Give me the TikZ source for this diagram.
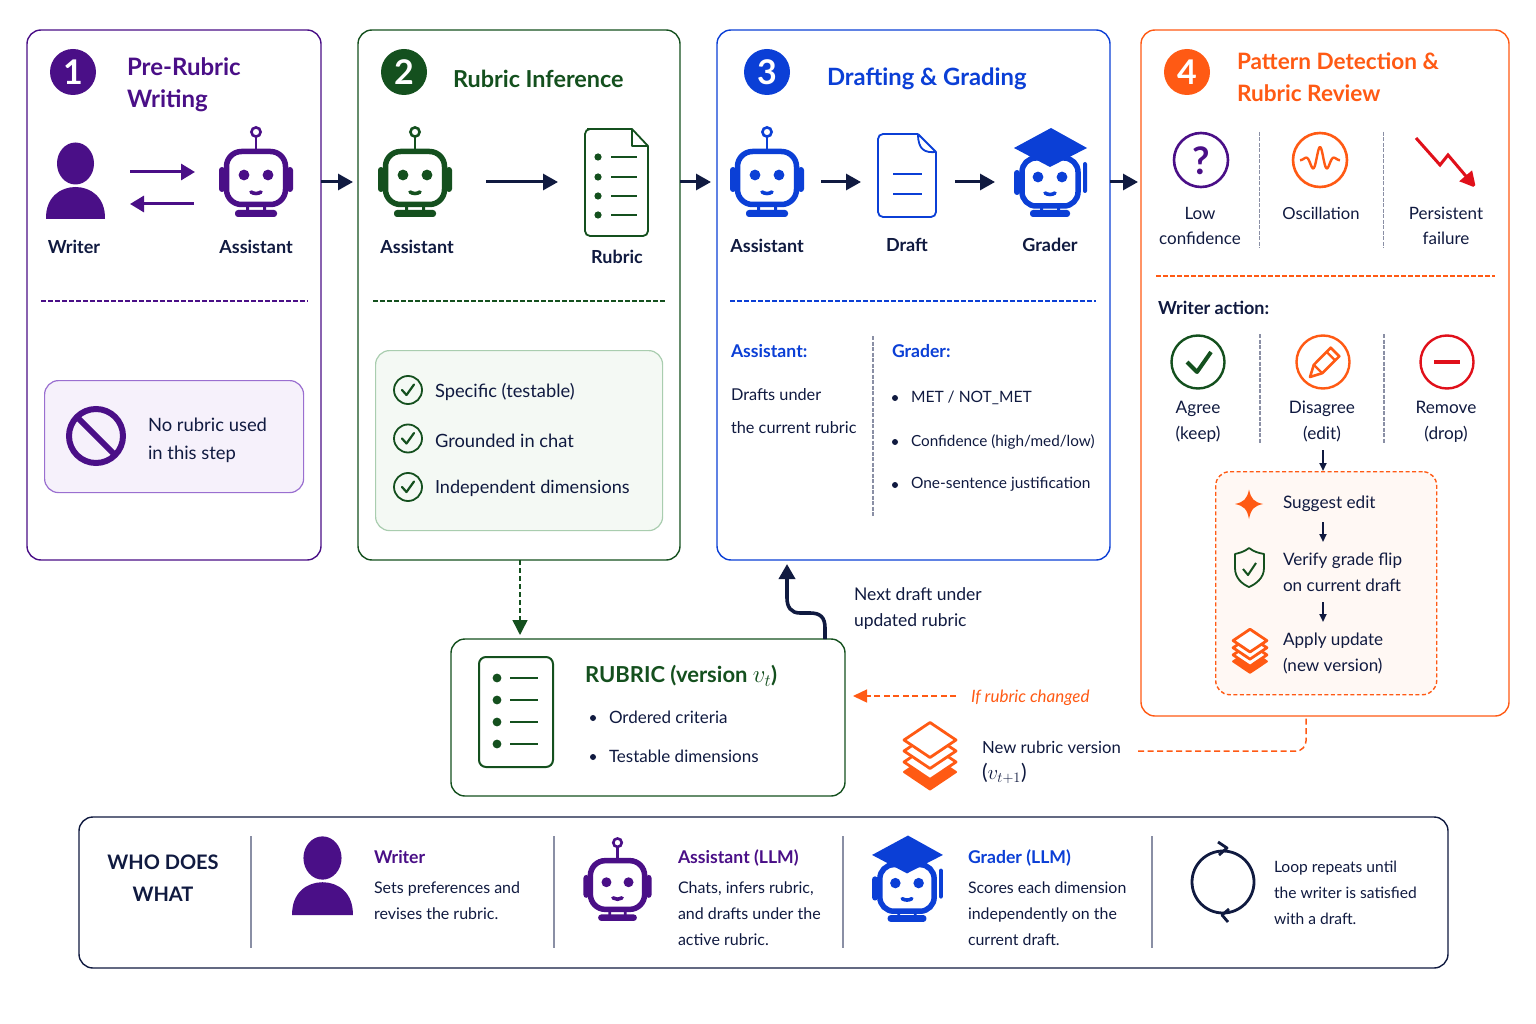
\documentclass[tikz,border=0pt]{standalone}
\usepackage{fontspec}
\setmainfont{Lato}
\usetikzlibrary{arrows.meta,calc}
\definecolor{cpur}{HTML}{4A0F87}
\definecolor{cgrn}{HTML}{14501E}
\definecolor{cblu}{HTML}{0B3FD6}
\definecolor{corg}{HTML}{FF5A14}
\definecolor{cred}{HTML}{E0101A}
\definecolor{cnav}{HTML}{101A40}
\definecolor{cgry}{HTML}{8A8FA5}
\tikzset{
  x=1pt,y=-1pt,
  fs/.style 2 args={font=\fontsize{#1}{#2}\selectfont},
  txt/.style={anchor=west,align=left,text=cnav,inner sep=0pt,outer sep=0pt,yshift=-0.5pt},
  ctr/.style={anchor=center,align=center,text=cnav,inner sep=0pt,outer sep=0pt,yshift=-0.5pt},
  lbl/.style={ctr,font=\fontsize{18}{25}\selectfont\bfseries},
  body/.style={txt,fs={17.5}{26}},
  head/.style={txt,font=\fontsize{24}{32}\selectfont\bfseries},
  subhd/.style={txt,font=\fontsize{17.6}{24}\selectfont\bfseries},
  panel/.style={draw=#1,line width=1.4pt,rounded corners=14pt,anchor=north west,inner sep=0,outer sep=0,fill=white},
  badge/.style={circle,fill=#1,text=white,minimum size=46pt,inner sep=0,font=\fontsize{34}{34}\selectfont\bfseries},
  divline/.style={draw=#1,line width=1.3pt,dash pattern=on 4.5pt off 2.5pt},
  sep/.style={draw=cgry,line width=1.2pt,dash pattern=on 4pt off 1.5pt},
  arr/.style={draw=cnav,line width=3pt,-{Triangle[length=15pt,width=16pt]}},
  thin arr/.style={draw=cnav,line width=1.8pt,-{Triangle[length=8pt,width=7pt]}},
  pics/robot/.style={code={
    \draw[color=#1,line width=5.5pt,rounded corners=15pt] (-29.5,-26.5) rectangle (29.5,26.5);
    \fill[color=#1,rounded corners=3pt] (-37,-11) rectangle (-31,14);
    \fill[color=#1,rounded corners=3pt] (31,-11) rectangle (37,14);
    \draw[color=#1,line width=2.6pt] (0,-28) -- (0,-41);
    \draw[color=#1,line width=2.6pt] (0,-46) circle[radius=4.6];
    \fill[color=#1] (-12,-3) circle[radius=5.4] (12,-3) circle[radius=5.4];
    \draw[color=#1,line width=3.6pt,line cap=round] (-5,14) .. controls (-2,16) and (2,16) .. (5,14);
    \fill[color=#1] (-10,27) rectangle (-7,33) (7,27) rectangle (10,33);
    \fill[color=#1,rounded corners=3pt] (-21,32) rectangle (21,39);
  }},
  pics/grader/.style={code={
    \draw[color=cblu,line width=5.5pt,rounded corners=14pt] (-28,-22) rectangle (28,26);
    \fill[color=cblu,rounded corners=3pt] (-36,-10) rectangle (-30,15);
    \fill[color=cblu,rounded corners=2pt] (33,-18) rectangle (37,13);
    \fill[color=cblu] (-12,-3) circle[radius=5.4] (12,-3) circle[radius=5.4];
    \draw[color=cblu,line width=3.6pt,line cap=round] (-5,13) .. controls (-2,15) and (2,15) .. (5,13);
    \fill[color=cblu] (-10,26) rectangle (-7,32) (7,26) rectangle (10,32);
    \fill[color=cblu,rounded corners=3pt] (-20,30) rectangle (20,37);
    \fill[color=cblu] (1,-52) -- (37,-32) -- (0,-13) -- (-36,-32) -- cycle;
  }},
  pics/person/.style={code={
    \fill[color=cpur] (0,-16.5) ellipse[x radius=18.5,y radius=21];
    \fill[color=cpur] (-29.5,39) .. controls (-30,17) and (-15,7) .. (0,7) .. controls (15,7) and (30,17) .. (29.5,39) -- cycle;
  }},
  pics/layers/.style={code={
    \fill[color=corg,line width=2pt,draw=corg,line join=round] (-26,16) -- (0,-1.5) -- (26,16) -- (0,33.5) -- cycle;
    \filldraw[draw=corg,fill=white,line width=2.8pt,line join=round] (-26,6) -- (0,-11.5) -- (26,6) -- (0,23.5) -- cycle;
    \filldraw[draw=corg,fill=white,line width=2.8pt,line join=round] (-26,-5) -- (0,-22.5) -- (26,-5) -- (0,12.5) -- cycle;
    \filldraw[draw=corg,fill=white,line width=2.8pt,line join=round] (-26,-16) -- (0,-33.5) -- (26,-16) -- (0,1.5) -- cycle;
  }},
  pics/chk/.style={code={
    \draw[cgrn,line width=1.8pt] (0,0) circle[radius=14];
    \draw[cgrn,line width=2.2pt,line cap=round,line join=round] (-6,0) -- (-1.5,5) -- (6,-5.5);
  }},
}
\begin{document}
\begin{tikzpicture}
\useasboundingbox (0,0) rectangle (1536,1024);
\fill[white] (0,0) rectangle (1536,1024);
% panels
\node[panel=cpur,minimum width=294pt,minimum height=530pt] (p1) at (27,30) {};
\node[panel=cgrn,minimum width=322pt,minimum height=530pt] (p2) at (358,30) {};
\node[panel=cblu,minimum width=393pt,minimum height=530pt] (p3) at (717,30) {};
\node[panel=corg,minimum width=368pt,minimum height=686pt] (p4) at (1141,30) {};
\node[panel=cgrn,minimum width=394pt,minimum height=157pt] (rb) at (451,639) {};
\node[panel=cnav,minimum width=1369pt,minimum height=151pt] (wd) at (79,817) {};
% badges
\node[badge=cpur] (b1) at (73,72) {1};
\node[badge=cgrn] (b2) at (404,72) {2};
\node[badge=cblu] (b3) at (767,72) {3};
\node[badge=corg] (b4) at (1187,72) {4};
\node[head,text=cpur] (h1) at (127,84) {Pre-Rubric\\Writing};
\node[head,text=cgrn,font=\fontsize{23.4}{32}\selectfont\bfseries] (h2) at (453,78) {Rubric Inference};
\node[head,text=cblu,font=\fontsize{23.8}{32}\selectfont\bfseries] (h3) at (827,78) {Drafting \& Grading};
\node[head,text=corg,font=\fontsize{22.6}{32}\selectfont\bfseries] (h4) at (1237,77) {Pattern Detection \&\\Rubric Review};
% dividers
\coordinate (d1a) at (41,301); \coordinate (d1b) at (308,301);
\coordinate (d2a) at (373,301); \coordinate (d2b) at (666,301);
\coordinate (d3a) at (730,301); \coordinate (d3b) at (1096,301);
\coordinate (d4a) at (1156,276); \coordinate (d4b) at (1495,276);
\draw[divline=cpur] (d1a) -- (d1b);
\draw[divline=cgrn] (d2a) -- (d2b);
\draw[divline=cblu] (d3a) -- (d3b);
\draw[divline=corg] (d4a) -- (d4b);
% panel 1
\pic at (75.5,180) {person};
\pic at (256,178) {robot=cpur};
\coordinate (w1) at (130,172); \coordinate (a1) at (195,172);
\coordinate (w2) at (130,204); \coordinate (a2) at (194,204);
\draw[draw=cpur,line width=3pt,-{Triangle[length=14pt,width=16pt]}] (w1) -- (a1);
\draw[draw=cpur,line width=3pt,-{Triangle[length=14pt,width=16pt]}] (a2) -- (w2);
\node[lbl] (l1) at (74,246) {Writer};
\node[lbl] (l2) at (256,246) {Assistant};
\definecolor{pbox}{HTML}{F6F1FB}\definecolor{pbord}{HTML}{9A6FD0}
\node[draw=pbord,fill=pbox,line width=1.2pt,rounded corners=14pt,anchor=north west,minimum width=259pt,minimum height=112pt,inner sep=0] (nb) at (44,380) {};
\draw[cpur,line width=6pt] (96,436) circle[radius=27];
\draw[cpur,line width=6pt] (77,417) -- (115,455);
\node[body,fs={18.4}{28}] (nt) at (148,440) {No rubric used\\in this step};
% panel 2
\pic at (415,178) {robot=cgrn};
\node[lbl] (l3) at (417,246) {Assistant};
\draw[cgrn,line width=1.8pt,rounded corners=5pt] (632,129) -- (592,129) -- (585,129) -- (585,236) -- (648,236) -- (648,146);
\draw[cgrn,line width=1.8pt,line join=round] (632,129) -- (648,146) -- (632,146) -- cycle;
\foreach \yy in {157,177,196,215}{
  \fill[cgrn] (598,\yy) circle[radius=3.6];
  \draw[cgrn,line width=2pt] (611,\yy) -- (637,\yy);
}
\node[lbl] (l4) at (617,256) {Rubric};
\coordinate (a3) at (486,182); \coordinate (r3) at (558,182);
\draw[arr] (a3) -- (r3);
\definecolor{gbox}{HTML}{F4F9F4}\definecolor{gbord}{HTML}{A9CDAF}
\node[draw=gbord,fill=gbox,line width=1.2pt,rounded corners=14pt,anchor=north west,minimum width=287pt,minimum height=180pt,inner sep=0] (cb) at (375,350) {};
\pic at (408,390) {chk};
\pic at (408,438.5) {chk};
\pic at (408,487) {chk};
\node[body,fs={18.3}{26}] (c1) at (435,391) {Specific (testable)};
\node[body,fs={18.3}{26}] (c2) at (435,440) {Grounded in chat};
\node[body,fs={18.1}{26}] (c3) at (435,488) {Independent dimensions};
% panel 3
\pic at (767,178) {robot=cblu};
\node[lbl] (l5) at (767,245) {Assistant};
\draw[cblu,line width=1.8pt,rounded corners=5pt] (918,134) -- (878,134) -- (878,217) -- (936,217) -- (936,152);
\draw[cblu,line width=1.8pt,line join=round] (918,134) -- (936,152) .. controls (925,153) and (918,150) .. (918,134);
\draw[cblu,line width=2pt] (893,174) -- (922,174) (893,194) -- (922,194);
\node[lbl] (l6) at (907,244) {Draft};
\pic at (1050,180) {grader};
\node[lbl] (l7) at (1050,244) {Grader};
\coordinate (a4) at (821,182); \coordinate (dd) at (861,182);
\coordinate (d5) at (955,182); \coordinate (gg) at (995,182);
\draw[arr] (a4) -- (dd);
\draw[arr] (d5) -- (gg);
\node[subhd,text=cblu] (t1) at (731,351) {Assistant:};
\node[body,fs={16.3}{33}] (t2) at (731,410.5) {Drafts under\\the current rubric};
\coordinate (s3a) at (873,336); \coordinate (s3b) at (873,516);
\draw[sep] (s3a) -- (s3b);
\node[subhd,text=cblu] (t3) at (892,351) {Grader:};
\foreach \yy in {398,442,485}{\fill[cnav] (895,\yy) circle[radius=3];}
\node[body,fs={15.6}{22}] (t4) at (911,397) {MET / NOT\_MET};
\node[body,fs={15.3}{22}] (t5) at (911,441) {Confidence (high/med/low)};
\node[body,fs={15.5}{22}] (t6) at (911,484) {One-sentence justification};
% panel connectors
\coordinate (c12) at (p1.east|-a3); \coordinate (c21) at ($(p2.west|-a3)+(-5,0)$);
\coordinate (c23) at (p2.east|-a3); \coordinate (c32) at ($(p3.west|-a3)+(-6,0)$);
\coordinate (c34) at (p3.east|-a3); \coordinate (c43) at ($(p4.west|-a3)+(-3,0)$);
\draw[arr] (c12) -- (c21);
\draw[arr] (c23) -- (c32);
\draw[arr] (c34) -- (c43);
% panel 4
\draw[cpur,line width=2.6pt] (1201,160) circle[radius=27];
\node[ctr,text=cpur,font=\fontsize{38}{38}\selectfont\bfseries] (qm) at (1201,160) {?};
\draw[corg,line width=2.6pt] (1320,160) circle[radius=27];
\draw[corg,line width=2.4pt,line join=round,shift={(1320,160)}] plot[domain=-20:20,samples=61,smooth] (\x,{-13*exp(-\x*\x/120)*cos(\x*24)});
\coordinate (f1) at (1416,138); \coordinate (f2) at (1440,165); \coordinate (f3) at (1448,155); \coordinate (f4) at (1476,188);
\draw[cred,line width=3pt,miter limit=2,-{Triangle[length=16pt,width=16pt]}] (f1) -- (f2) -- (f3) -- (f4);
\node[ctr,fs={17}{25}] (m1) at (1200,225.5) {Low\\confidence};
\node[ctr,fs={16.6}{25}] (m2) at (1321,213) {Oscillation};
\node[ctr,fs={17}{25}] (m3) at (1446,225.5) {Persistent\\failure};
\coordinate (s4a) at (1259.5,132); \coordinate (s4b) at (1259.5,248);
\coordinate (s5a) at (1383.5,132); \coordinate (s5b) at (1383.5,248);
\draw[sep] (s4a) -- (s4b);
\draw[sep] (s5a) -- (s5b);
\node[subhd,font=\fontsize{18}{24}\selectfont\bfseries] (wa) at (1158,307) {Writer action:};
\draw[cgrn,line width=2.4pt] (1198,362) circle[radius=26.5];
\draw[cgrn,line width=4pt,line join=round] (1187,362) -- (1197,372) -- (1211,352);
\draw[corg,line width=2.4pt] (1323,362) circle[radius=26.5];
\draw[corg,line width=2.6pt,line join=round] (1330.7,347.7) -- (1339.3,356.3) -- (1322.2,373.2) -- (1310,377) -- (1313.8,364.8) -- cycle;
\draw[corg,line width=2.2pt] (1326.5,351.8) -- (1335,360.3) (1313.8,364.8) -- (1322.2,373.2);
\draw[cred,line width=2.4pt] (1447,362) circle[radius=26.5];
\draw[cred,line width=4pt] (1434,362) -- (1460,362);
\node[ctr,fs={17.2}{26}] (g1) at (1198,421) {Agree\\(keep)};
\node[ctr,fs={17.2}{26}] (g2) at (1322,421) {Disagree\\(edit)};
\node[ctr,fs={17.2}{26}] (g3) at (1446,421) {Remove\\(drop)};
\coordinate (s6a) at (1260,334); \coordinate (s6b) at (1260,443);
\coordinate (s7a) at (1384,334); \coordinate (s7b) at (1384,443);
\draw[sep] (s6a) -- (s6b);
\draw[sep] (s7a) -- (s7b);
\definecolor{obox}{HTML}{FFF8F4}
\node[draw=corg,fill=obox,line width=1.4pt,dash pattern=on 4pt off 2.5pt,rounded corners=14pt,anchor=north west,minimum width=221pt,minimum height=223pt,inner sep=0] (eb) at (1215,471) {};
\coordinate (e0) at (1323,450);
\draw[thin arr] (e0) -- (e0|-eb.north);
\fill[corg] (1249,489.5) .. controls (1251,499) and (1254,502) .. (1263,504) .. controls (1254,506) and (1251,509) .. (1249,519) .. controls (1247,509) and (1244,506) .. (1235,504) .. controls (1244,502) and (1247,499) .. (1249,489.5) -- cycle;
\node[body,fs={17.2}{26}] (e1) at (1283,503) {Suggest edit};
\coordinate (e1a) at (1323,522); \coordinate (e1b) at (1323,542);
\draw[thin arr] (e1a) -- (e1b);
\draw[cgrn,line width=1.8pt,line join=round] (1249,548) .. controls (1244,552) and (1239,553) .. (1235,554) -- (1235,568) .. controls (1235,578) and (1242,584) .. (1249,587) .. controls (1256,584) and (1264,578) .. (1264,568) -- (1264,554) .. controls (1259,553) and (1254,552) .. (1249,548) -- cycle;
\draw[cgrn,line width=2pt,line join=round] (1243,569) -- (1248,575) -- (1256,563);
\node[body,fs={17.1}{26}] (e2) at (1283,572) {Verify grade flip\\on current draft};
\coordinate (e2a) at (1323,602); \coordinate (e2b) at (1323,622);
\draw[thin arr] (e2a) -- (e2b);
\pic[scale=.65] at (1250,651) {layers};
\node[body,fs={17.1}{26}] (e3) at (1283,653) {Apply update\\(new version)};
% rubric and feedback
\coordinate (rdn) at (520,560); \coordinate (rdt) at ($(rdn|-rb.north)+(0,-4)$);
\draw[cgrn,line width=1.5pt,dash pattern=on 5pt off 3pt,-{Triangle[length=15pt,width=15pt]}] (rdn) -- (rdt);
\draw[cgrn,line width=2pt,rounded corners=7pt] (479,657) rectangle (553,767);
\foreach \yy in {678,700,722,744}{
  \fill[cgrn] (497,\yy) circle[radius=4.4];
  \draw[cgrn,line width=2.2pt] (510,\yy) -- (538,\yy);
}
\node[txt,font=\fontsize{22}{28}\selectfont\bfseries,text=cgrn] (rt) at (585,675) {RUBRIC (version {\fontsize{26}{28}\selectfont$v_t$})};
\fill[cnav] (593,718) circle[radius=3] (593,757) circle[radius=3];
\node[body,fs={17}{26}] (r1) at (609,717) {Ordered criteria};
\node[body,fs={17}{26}] (r2) at (609,756) {Testable dimensions};
\coordinate (u0) at (825,639); \coordinate (u1) at (787,564);
\draw[draw=cnav,line width=3.6pt,-{Triangle[length=15pt,width=16pt]}] (u0) -- (825,628) .. controls (825,617) and (820,613) .. (810,613) -- (800,613) .. controls (791,613) and (787,607) .. (787,598) -- (u1);
\node[body,fs={17.5}{26}] (nd) at (854,608) {Next draft under\\updated rubric};
\node[txt,font=\fontsize{17}{24}\selectfont\itshape,text=corg] (if) at (971,697) {If rubric changed};
\coordinate (ifa) at (956,696); \coordinate (ifb) at ($(rb.east|-ifa)+(8,0)$);
\draw[corg,line width=1.5pt,dash pattern=on 6pt off 3.5pt,-{Triangle[length=14pt,width=13pt]}] (ifa) -- (ifb);
\pic at (930,756) {layers};
\node[body,fs={16.7}{26}] (nv) at (982,762) {New rubric version\\{\fontsize{21}{26}\selectfont($v_{t+1}$)}};
\coordinate (nva) at (1138,751); \coordinate (nvb) at (1306,716);
\draw[corg,line width=1.5pt,dash pattern=on 6pt off 3.5pt,rounded corners=10pt] (nva) -- (nvb|-nva) -- (nvb);
% bottom strip
\node[ctr,font=\fontsize{20}{32}\selectfont\bfseries] (wh) at (163,878) {WHO DOES\\WHAT};
\foreach \xx in {251,554,843,1152}{\draw[cgry,line width=1.2pt] (\xx,836) -- (\xx,948);}
\pic[scale=1.03] at (322.5,875) {person};
\node[subhd,text=cpur] (k1) at (374,857) {Writer};
\node[body,fs={16}{26}] (k2) at (374,900) {Sets preferences and\\revises the rubric.};
\pic[scale=.92] at (617.5,885) {robot=cpur};
\node[subhd,text=cpur] (k3) at (678,857) {Assistant (LLM)};
\node[body,fs={16}{26}] (k4) at (678,913) {Chats, infers rubric,\\and drafts under the\\active rubric.};
\pic[scale=.97] at (907,886) {grader};
\node[subhd,text=cblu] (k5) at (968,857) {Grader (LLM)};
\node[body,fs={15.9}{26}] (k6) at (968,913) {Scores each dimension\\independently on the\\current draft.};
\draw[cnav,line width=2.8pt] (1223,882) circle[radius=31];
\draw[cnav,line width=2.8pt,line join=round] (1218,842) -- (1227,848) -- (1219,855);
\draw[cnav,line width=2.8pt,line join=round] (1229,909) -- (1222,915) -- (1228,922);
\node[body,fs={15.6}{26}] (k7) at (1274,892) {Loop repeats until\\the writer is satisfied\\with a draft.};
\end{tikzpicture}
\end{document}
